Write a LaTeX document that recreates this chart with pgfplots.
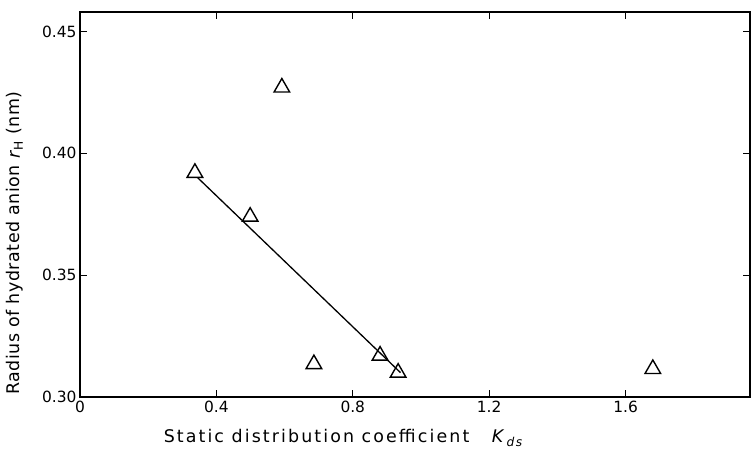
\documentclass[border=0pt]{standalone}
\usepackage{fontspec}
\setmainfont{DejaVu Sans}
\usepackage{pgfplots}
\pgfplotsset{compat=1.18}
\begin{document}
\begin{tikzpicture}[x=1bp,y=1bp]
\useasboundingbox (0,0) rectangle (752,449);
\begin{axis}[
  at={(80bp,52bp)}, anchor=south west,
  scale only axis, width=670bp, height=385bp,
  xmin=0, xmax=1.965, ymin=0.30, ymax=0.458,
  xtick={0,0.4,0.8,1.2,1.6}, xticklabels={0,0.4,0.8,1.2,1.6},
  ytick={0.30,0.35,0.40,0.45}, yticklabels={0.30,0.35,0.40,0.45},
  tick style={black, line width=1.2bp}, major tick length=7bp,
  axis line style={line width=1.5bp},
  tick label style={font=\fontsize{15.5}{15.5}\selectfont},
  xticklabel style={yshift=-1bp},
  /pgf/number format/assume math mode=true,
  xlabel={\addfontfeatures{LetterSpace=12}Static distribution coefficient\hspace{1.3em}\textit{K}\textsubscript{\textit{ds}}},
  ylabel={\addfontfeatures{LetterSpace=3}Radius of hydrated anion \textit{r}\textsubscript{H} (nm)},
  label style={font=\fontsize{17.5}{17.5}\selectfont},
  xlabel style={at={(axis description cs:0.394,0)}, anchor=center, yshift=-41bp},
  ylabel style={at={(axis description cs:0,0.40)}, anchor=center, yshift=65bp},
]
\addplot[black, line width=1.3bp] coordinates {(0.345,0.390) (0.94,0.310)};
\addplot[only marks, mark=triangle, mark size=9bp, mark options={black, line width=1.4bp}] coordinates {
  (0.592,0.427) (0.337,0.392) (0.499,0.374) (0.686,0.3135) (0.880,0.317) (0.933,0.310) (1.68,0.3115)
};
\end{axis}
\end{tikzpicture}
\end{document}
